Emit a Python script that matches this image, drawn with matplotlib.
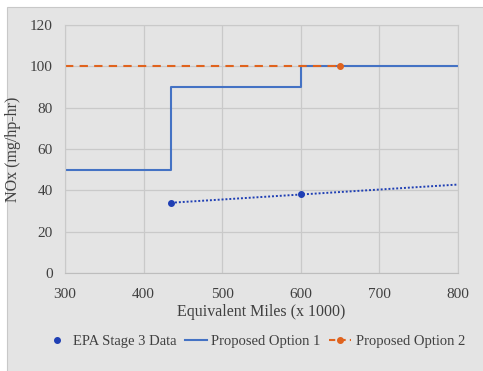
import matplotlib.pyplot as plt
from matplotlib.patches import Rectangle

# ------------------------------------------------------
# Data
# ------------------------------------------------------

epa_miles = [435, 600]
epa_nox = [34, 38]

trend_miles = [435, 800]
trend_nox = [34, 42.8]

opt1_miles = [300, 435, 435, 600, 600, 800]
opt1_nox = [50, 50, 90, 90, 100, 100]

opt2_miles = [300, 650]
opt2_nox = [100, 100]

x_ticks = [300, 400, 500, 600, 700, 800]
y_ticks = [0, 20, 40, 60, 80, 100, 120]

blue = "#1f3fb4"
line_blue = "#4472c4"
orange = "#e0631e"
bg = "#e4e4e4"

plt.rcParams["font.family"] = ["Liberation Serif", "DejaVu Serif"]

fig = plt.figure(figsize=(4.83, 3.71), dpi=100)
fig.patch.set_facecolor("white")

# gray chart panel
fig.add_artist(Rectangle((7 / 483, -0.05), 1.1, 1.05 - 7 / 371,
                         transform=fig.transFigure, facecolor=bg,
                         edgecolor="#c8c8c8", linewidth=0.8, zorder=-1))

ax = fig.add_axes([65 / 483, 1 - 273 / 371, (458 - 65) / 483, (273 - 25) / 371])
ax.set_facecolor(bg)

ax.plot(trend_miles, trend_nox, color=blue, linestyle=(0, (1, 1)), linewidth=1.4)
ax.plot(epa_miles, epa_nox, "o", color=blue, markersize=4, label="EPA Stage 3 Data")
ax.plot(opt1_miles, opt1_nox, color=line_blue, linewidth=1.5, label="Proposed Option 1")
ax.plot(opt2_miles, opt2_nox, color=orange, linewidth=1.5, linestyle=(0, (4, 3)))
ax.plot(opt2_miles[-1:], opt2_nox[-1:], "o", color=orange, markersize=4)
ax.plot([], [], color=orange, linewidth=1.5, linestyle=(0, (3, 2)), marker="o",
        markersize=4, markevery=[1], label="Proposed Option 2")

ax.set_xlim(300, 800)
ax.set_ylim(0, 120)
ax.set_xticks(x_ticks)
ax.set_yticks(y_ticks)
ax.grid(True, color="#c9c9c9", linewidth=0.9)
ax.set_axisbelow(True)
ax.tick_params(length=0, labelsize=11, colors="#404040")
ax.tick_params(axis="x", pad=11)
ax.tick_params(axis="y", pad=9)

for spine in ax.spines.values():
    spine.set_color("#c9c9c9")
ax.spines["bottom"].set_color("#bdbdbd")

ax.set_xlabel("Equivalent Miles (x 1000)", fontsize=11.5, color="#404040", labelpad=2)
ax.set_ylabel("NOx (mg/hp-hr)", fontsize=11.5, color="#404040", labelpad=6)

ax.legend(loc="upper center", bbox_to_anchor=(0.485, -0.195), ncol=3, frameon=False,
          fontsize=10.5, handlelength=1.5, handletextpad=0.3, columnspacing=0.6,
          labelcolor="#404040")

fig.savefig("out.png", dpi=100)
